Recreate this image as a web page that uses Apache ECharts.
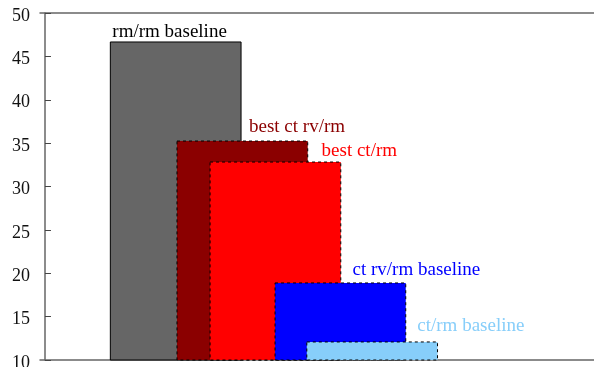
<!DOCTYPE html>
<html>
<head>
<meta charset="utf-8">
<script src="https://cdn.jsdelivr.net/npm/echarts@6/dist/echarts.min.js"></script>
<style>html,body{margin:0;padding:0;background:#fff}#c{width:594px;height:367px}</style>
</head>
<body>
<div id="c"></div>
<script>
// Data
var names = ['rm/rm baseline', 'best ct rv/rm', 'best ct/rm', 'ct rv/rm baseline', 'ct/rm baseline'];
var xPos = [1, 1.51, 1.763, 2.26, 2.503];
var values = [46.66, 35.24, 32.82, 18.88, 12.08];
var yTicks = [10, 15, 20, 25, 30, 35, 40, 45, 50];

// Styles
var fills = ['#666666', '#8b0000', '#ff0000', '#0000ff', '#87cefa'];
var textColors = ['#000000', '#8b0000', '#ff0000', '#0000ff', '#87cefa'];
var dashed = [false, true, true, true, true];
var boxWidth = 1;
var labelDx = [2, 72, 111.5, 77.5, 110.5];
var labelDy = [6.5, 11, 8, 9, 12];

var chart = echarts.init(document.getElementById('c'), null, {renderer: 'canvas'});
var data = names.map(function (n, i) { return [xPos[i], values[i], i]; });

chart.setOption({
  animation: false,
  grid: {left: 40, right: 0, top: 13, bottom: 7, containLabel: false, outerBoundsMode: 'none'},
  xAxis: [{
    type: 'value', min: -0.038, max: 4.2, position: 'bottom',
    axisLine: {show: true, lineStyle: {color: '#666', width: 1.5}},
    axisTick: {show: false}, axisLabel: {show: false}, splitLine: {show: false}
  }, {
    type: 'value', min: -0.038, max: 4.2, position: 'top',
    axisLine: {show: true, lineStyle: {color: '#666', width: 1.5}},
    axisTick: {show: false}, axisLabel: {show: false}, splitLine: {show: false}
  }],
  yAxis: {
    type: 'value', min: 10, max: 50, interval: 5,
    axisLine: {show: true, lineStyle: {color: '#666', width: 1.5}},
    axisTick: {show: true, inside: true, length: 6, lineStyle: {color: '#444', width: 1}},
    axisLabel: {
      show: true, margin: 10, color: '#111',
      fontFamily: 'Liberation Serif', fontSize: 18,
      verticalAlign: 'top', lineHeight: 6,
      formatter: function (v) { return yTicks.indexOf(v) >= 0 ? String(v) : ''; }
    },
    splitLine: {show: false}
  },
  series: [{
    type: 'custom',
    xAxisIndex: 0,
    data: data,
    renderItem: function (params, api) {
      var x = api.value(0), v = api.value(1), i = api.value(2);
      var p0 = api.coord([x - boxWidth / 2, v]);
      var p1 = api.coord([x + boxWidth / 2, 10]);
      return {
        type: 'group',
        children: [{
          type: 'rect',
          shape: {x: p0[0], y: p0[1], width: p1[0] - p0[0], height: p1[1] - p0[1]},
          style: {
            fill: fills[i], stroke: '#000', lineWidth: 1,
            lineDash: dashed[i] ? [3, 3] : null
          }
        }, {
          type: 'text',
          x: p0[0] + labelDx[i],
          y: p0[1] - labelDy[i] + 6,
          style: {
            text: names[i], fill: textColors[i],
            font: '19px "Liberation Serif"',
            align: 'left', verticalAlign: 'bottom'
          }
        }]
      };
    }
  }]
});
</script>
</body>
</html>
